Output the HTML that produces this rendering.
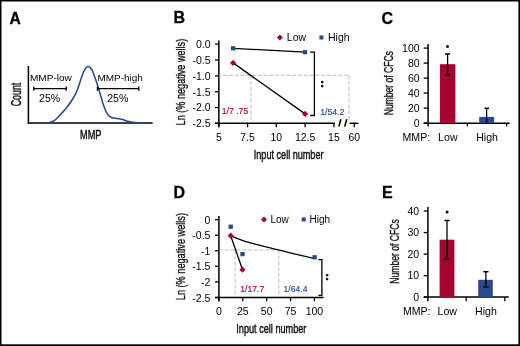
<!DOCTYPE html>
<html><head><meta charset="utf-8"><style>
html,body{margin:0;padding:0;background:#fff;}
svg{display:block;will-change:transform;}
text{font-family:"Liberation Sans", sans-serif;}
</style></head><body>
<svg width="520" height="346" viewBox="0 0 520 346">
<rect width="520" height="346" fill="#fff"/>
<rect x="0" y="0" width="1.5" height="346" fill="#000"/>
<rect x="0" y="0" width="520" height="1.5" fill="#000"/>
<rect x="518.4" y="0" width="1.6" height="346" fill="#000"/>
<rect x="0" y="344.3" width="520" height="1.7" fill="#000"/>
<text x="9.4" y="23.5" font-size="15.6" text-anchor="start" fill="#000" font-weight="bold" stroke="#000" stroke-width="0.3">A</text>
<line x1="28.4" y1="66" x2="28.4" y2="123.85" stroke="#000" stroke-width="1.5" />
<line x1="27.65" y1="123.1" x2="152.7" y2="123.1" stroke="#000" stroke-width="1.5" />
<path d="M48.50,123.00 C49.47,122.60 52.55,121.73 54.30,120.60 C56.05,119.47 56.93,118.37 59.00,116.20 C61.07,114.03 64.32,110.63 66.70,107.60 C69.08,104.57 71.57,100.85 73.30,98.00 C75.03,95.15 75.82,93.67 77.10,90.50 C78.38,87.33 79.88,82.18 81.00,79.00 C82.12,75.82 82.67,73.47 83.80,71.40 C84.93,69.33 86.48,66.92 87.80,66.60 C89.12,66.28 90.58,67.90 91.70,69.50 C92.82,71.10 93.55,73.65 94.50,76.20 C95.45,78.75 96.43,81.77 97.40,84.80 C98.37,87.83 99.35,91.22 100.30,94.40 C101.25,97.58 101.98,100.73 103.10,103.90 C104.22,107.07 105.72,111.17 107.00,113.40 C108.28,115.63 109.38,116.50 110.80,117.30 C112.22,118.10 113.60,117.83 115.50,118.20 C117.40,118.57 119.97,118.95 122.20,119.50 C124.43,120.05 126.52,120.98 128.90,121.50 C131.28,122.02 134.65,122.35 136.50,122.60 C138.35,122.85 139.42,122.93 140.00,123.00" fill="none" stroke="#2b4a8a" stroke-width="1.55"/>
<text x="30.0" y="80.5" font-size="9.6" text-anchor="start" fill="#000" font-weight="normal"  textLength="41.8" lengthAdjust="spacingAndGlyphs">MMP-low</text>
<line x1="33.8" y1="88.7" x2="66.2" y2="88.7" stroke="#000" stroke-width="1.3" />
<line x1="33.8" y1="86.6" x2="33.8" y2="90.8" stroke="#000" stroke-width="1.3" />
<line x1="66.2" y1="86.6" x2="66.2" y2="90.8" stroke="#000" stroke-width="1.3" />
<text x="39.1" y="101.5" font-size="10" text-anchor="start" fill="#000" font-weight="normal"  textLength="21.2" lengthAdjust="spacingAndGlyphs">25%</text>
<text x="97.5" y="80.5" font-size="9.6" text-anchor="start" fill="#000" font-weight="normal"  textLength="45.4" lengthAdjust="spacingAndGlyphs">MMP-high</text>
<line x1="97.4" y1="88.7" x2="138.8" y2="88.7" stroke="#000" stroke-width="1.3" />
<line x1="97.4" y1="86.6" x2="97.4" y2="90.8" stroke="#000" stroke-width="1.3" />
<line x1="138.8" y1="86.6" x2="138.8" y2="90.8" stroke="#000" stroke-width="1.3" />
<text x="107.2" y="101.5" font-size="10" text-anchor="start" fill="#000" font-weight="normal"  textLength="21.2" lengthAdjust="spacingAndGlyphs">25%</text>
<text transform="translate(20.6,106.3) rotate(-90)" font-size="14" textLength="23.6" lengthAdjust="spacingAndGlyphs" font-weight="normal" fill="#111" stroke="#111" stroke-width="0.5">Count</text>
<text x="80" y="138.6" font-size="13.7" textLength="21.4" lengthAdjust="spacingAndGlyphs" font-weight="normal" fill="#111" stroke="#111" stroke-width="0.5">MMP</text>
<text x="173.6" y="23.3" font-size="16" text-anchor="start" fill="#000" font-weight="bold" stroke="#000" stroke-width="0.3">B</text>
<line x1="218.85" y1="40.5" x2="218.85" y2="127.2" stroke="#000" stroke-width="1.5" />
<line x1="214.9" y1="44.1" x2="218.85" y2="44.1" stroke="#000" stroke-width="1.3" />
<text x="210.5" y="47.9" font-size="10.5" text-anchor="end" fill="#000" font-weight="normal" >0.0</text>
<line x1="214.9" y1="59.97" x2="218.85" y2="59.97" stroke="#000" stroke-width="1.3" />
<text x="210.5" y="63.769999999999996" font-size="10.5" text-anchor="end" fill="#000" font-weight="normal" >-0.5</text>
<line x1="214.9" y1="75.84" x2="218.85" y2="75.84" stroke="#000" stroke-width="1.3" />
<text x="210.5" y="79.64" font-size="10.5" text-anchor="end" fill="#000" font-weight="normal" >-1.0</text>
<line x1="214.9" y1="91.71000000000001" x2="218.85" y2="91.71000000000001" stroke="#000" stroke-width="1.3" />
<text x="210.5" y="95.51" font-size="10.5" text-anchor="end" fill="#000" font-weight="normal" >-1.5</text>
<line x1="214.9" y1="107.58" x2="218.85" y2="107.58" stroke="#000" stroke-width="1.3" />
<text x="210.5" y="111.38" font-size="10.5" text-anchor="end" fill="#000" font-weight="normal" >-2.0</text>
<line x1="214.9" y1="123.44999999999999" x2="218.85" y2="123.44999999999999" stroke="#000" stroke-width="1.3" />
<text x="210.5" y="127.24999999999999" font-size="10.5" text-anchor="end" fill="#000" font-weight="normal" >-2.5</text>
<line x1="214.9" y1="123.3" x2="335" y2="123.3" stroke="#000" stroke-width="1.5" />
<line x1="349.5" y1="123.3" x2="358.5" y2="123.3" stroke="#000" stroke-width="1.5" />
<line x1="218.8" y1="123.45" x2="218.8" y2="127.2" stroke="#000" stroke-width="1.3" />
<text x="218.8" y="140.8" font-size="10.5" text-anchor="middle" fill="#000" font-weight="normal" >5</text>
<line x1="247.6" y1="123.45" x2="247.6" y2="127.2" stroke="#000" stroke-width="1.3" />
<text x="247.6" y="140.8" font-size="10.5" text-anchor="middle" fill="#000" font-weight="normal" >7.5</text>
<line x1="276.3" y1="123.45" x2="276.3" y2="127.2" stroke="#000" stroke-width="1.3" />
<text x="276.3" y="140.8" font-size="10.5" text-anchor="middle" fill="#000" font-weight="normal" >10</text>
<line x1="305.1" y1="123.45" x2="305.1" y2="127.2" stroke="#000" stroke-width="1.3" />
<text x="305.1" y="140.8" font-size="10.5" text-anchor="middle" fill="#000" font-weight="normal" >12.5</text>
<line x1="333.9" y1="123.45" x2="333.9" y2="127.2" stroke="#000" stroke-width="1.3" />
<text x="333.9" y="140.8" font-size="10.5" text-anchor="middle" fill="#000" font-weight="normal" >15</text>
<line x1="354.3" y1="123.45" x2="354.3" y2="127.2" stroke="#000" stroke-width="1.3" />
<text x="354.3" y="140.8" font-size="10.5" text-anchor="middle" fill="#000" font-weight="normal" >60</text>
<line x1="338.8" y1="126.6" x2="340.9" y2="119.3" stroke="#000" stroke-width="1.6" />
<line x1="344.7" y1="126.6" x2="346.8" y2="119.3" stroke="#000" stroke-width="1.6" />
<text x="253.8" y="158.8" font-size="12.8" textLength="69.7" lengthAdjust="spacingAndGlyphs" font-weight="normal" fill="#111" stroke="#111" stroke-width="0.45">Input cell number</text>
<text transform="translate(185.2,125.4) rotate(-90)" font-size="13.6" textLength="86.6" lengthAdjust="spacingAndGlyphs" font-weight="normal" fill="#111" stroke="#111" stroke-width="0.35">Ln (% negative wells)</text>
<line x1="219.6" y1="75.3" x2="349.2" y2="75.3" stroke="#bcbcbc" stroke-width="1" stroke-dasharray="4,1.77" stroke-dashoffset="2.27"/>
<line x1="250.9" y1="75.3" x2="250.9" y2="122.7" stroke="#bcbcbc" stroke-width="1" stroke-dasharray="4,1.8"/>
<line x1="349" y1="75.3" x2="349" y2="122.7" stroke="#bcbcbc" stroke-width="1" stroke-dasharray="4,1.8"/>
<line x1="233.1" y1="48.3" x2="305" y2="52.2" stroke="#000" stroke-width="1.3" />
<line x1="233.1" y1="62.9" x2="305.1" y2="113.9" stroke="#000" stroke-width="1.3" />
<rect x="230.95" y="46.15" width="4.3" height="4.3" fill="#2b4a8a"/>
<rect x="302.85" y="50.05" width="4.3" height="4.3" fill="#2b4a8a"/>
<path d="M233.1,59.8 L236.2,62.9 L233.1,66.0 L230.0,62.9 Z" fill="#a6052f"/>
<path d="M305.1,110.80000000000001 L308.20000000000005,113.9 L305.1,117.0 L302.0,113.9 Z" fill="#a6052f"/>
<path d="M310.2,52.2 H314.4 V115.5 H310.2" fill="none" stroke="#000" stroke-width="1.3"/>
<circle cx="322.2" cy="82.1" r="1.3" fill="#111"/>
<circle cx="322.2" cy="86.1" r="1.3" fill="#111"/>
<text x="221.7" y="114.2" font-size="8.7" text-anchor="start" fill="#a6052f" font-weight="normal" stroke="#a6052f" stroke-width="0.15">1/7 .75</text>
<text x="320.2" y="114.7" font-size="8.7" text-anchor="start" fill="#2b4a8a" font-weight="normal" stroke="#2b4a8a" stroke-width="0.15">1/54.2</text>
<path d="M279.9,34.5 L282.9,37.5 L279.9,40.5 L276.9,37.5 Z" fill="#a6052f"/>
<text x="286.8" y="40.6" font-size="10.5" text-anchor="start" fill="#000" font-weight="normal" >Low</text>
<rect x="319.40" y="35.50" width="4.0" height="4.0" fill="#2b4a8a"/>
<text x="328" y="40.6" font-size="10.5" text-anchor="start" fill="#000" font-weight="normal" >High</text>
<text x="381.5" y="23.6" font-size="16" text-anchor="start" fill="#000" font-weight="bold" stroke="#000" stroke-width="0.3">C</text>
<line x1="428.1" y1="44" x2="428.1" y2="126.4" stroke="#000" stroke-width="1.5" />
<line x1="423.7" y1="48.1" x2="428.1" y2="48.1" stroke="#000" stroke-width="1.3" />
<text x="419.6" y="51.9" font-size="10.5" text-anchor="end" fill="#000" font-weight="normal" >100</text>
<line x1="423.7" y1="63.1" x2="428.1" y2="63.1" stroke="#000" stroke-width="1.3" />
<text x="419.6" y="66.9" font-size="10.5" text-anchor="end" fill="#000" font-weight="normal" >80</text>
<line x1="423.7" y1="78.1" x2="428.1" y2="78.1" stroke="#000" stroke-width="1.3" />
<text x="419.6" y="81.89999999999999" font-size="10.5" text-anchor="end" fill="#000" font-weight="normal" >60</text>
<line x1="423.7" y1="93.1" x2="428.1" y2="93.1" stroke="#000" stroke-width="1.3" />
<text x="419.6" y="96.89999999999999" font-size="10.5" text-anchor="end" fill="#000" font-weight="normal" >40</text>
<line x1="423.7" y1="108.1" x2="428.1" y2="108.1" stroke="#000" stroke-width="1.3" />
<text x="419.6" y="111.89999999999999" font-size="10.5" text-anchor="end" fill="#000" font-weight="normal" >20</text>
<line x1="423.7" y1="123.1" x2="428.1" y2="123.1" stroke="#000" stroke-width="1.3" />
<text x="419.6" y="126.89999999999999" font-size="10.5" text-anchor="end" fill="#000" font-weight="normal" >0</text>
<line x1="423.7" y1="123.2" x2="509.6" y2="123.2" stroke="#000" stroke-width="1.5" />
<line x1="467.4" y1="123.2" x2="467.4" y2="126.4" stroke="#000" stroke-width="1.3" />
<line x1="506.6" y1="123.2" x2="506.6" y2="126.4" stroke="#000" stroke-width="1.3" />
<rect x="439.9" y="64.2" width="15.5" height="59" fill="#a6052f"/>
<rect x="479.2" y="116.9" width="15" height="6.3" fill="#2b4a8a"/>
<line x1="447.6" y1="53.9" x2="447.6" y2="74.9" stroke="#000" stroke-width="1.3" />
<line x1="445.1" y1="53.9" x2="450.1" y2="53.9" stroke="#000" stroke-width="1.5" />
<line x1="445.1" y1="74.9" x2="450.1" y2="74.9" stroke="#000" stroke-width="1.5" />
<line x1="486.6" y1="108.3" x2="486.6" y2="123" stroke="#000" stroke-width="1.3" />
<line x1="484.4" y1="108.3" x2="489" y2="108.3" stroke="#000" stroke-width="1.5" />
<circle cx="447.5" cy="46.5" r="1.5" fill="#111"/>
<text transform="translate(392.9,115.3) rotate(-90)" font-size="13" textLength="64.2" lengthAdjust="spacingAndGlyphs" font-weight="normal" fill="#111" stroke="#111" stroke-width="0.35">Number of CFCs</text>
<text x="402.5" y="140.6" font-size="10.6" text-anchor="start" fill="#000" font-weight="normal" >MMP:</text>
<text x="438.1" y="140.6" font-size="10.6" text-anchor="start" fill="#000" font-weight="normal" >Low</text>
<text x="476.2" y="140.6" font-size="10.6" text-anchor="start" fill="#000" font-weight="normal" >High</text>
<text x="173.5" y="197.5" font-size="16" text-anchor="start" fill="#000" font-weight="bold" stroke="#000" stroke-width="0.3">D</text>
<line x1="218.9" y1="216" x2="218.9" y2="301.3" stroke="#000" stroke-width="1.5" />
<line x1="215" y1="219.6" x2="218.9" y2="219.6" stroke="#000" stroke-width="1.3" />
<text x="210.4" y="223.7" font-size="10.5" text-anchor="end" fill="#000" font-weight="normal" >0</text>
<line x1="215" y1="235.18" x2="218.9" y2="235.18" stroke="#000" stroke-width="1.3" />
<text x="210.4" y="239.28" font-size="10.5" text-anchor="end" fill="#000" font-weight="normal" >-0.5</text>
<line x1="215" y1="250.76" x2="218.9" y2="250.76" stroke="#000" stroke-width="1.3" />
<text x="210.4" y="254.85999999999999" font-size="10.5" text-anchor="end" fill="#000" font-weight="normal" >-1</text>
<line x1="215" y1="266.34" x2="218.9" y2="266.34" stroke="#000" stroke-width="1.3" />
<text x="210.4" y="270.44" font-size="10.5" text-anchor="end" fill="#000" font-weight="normal" >-1.5</text>
<line x1="215" y1="281.92" x2="218.9" y2="281.92" stroke="#000" stroke-width="1.3" />
<text x="210.4" y="286.02000000000004" font-size="10.5" text-anchor="end" fill="#000" font-weight="normal" >-2</text>
<line x1="215" y1="297.5" x2="218.9" y2="297.5" stroke="#000" stroke-width="1.3" />
<text x="210.4" y="301.6" font-size="10.5" text-anchor="end" fill="#000" font-weight="normal" >-2.5</text>
<line x1="215" y1="297.5" x2="323.6" y2="297.5" stroke="#000" stroke-width="1.5" />
<line x1="218.9" y1="297.5" x2="218.9" y2="301.3" stroke="#000" stroke-width="1.3" />
<text x="218.9" y="314.9" font-size="10.5" text-anchor="middle" fill="#000" font-weight="normal" >0</text>
<line x1="242.78" y1="297.5" x2="242.78" y2="301.3" stroke="#000" stroke-width="1.3" />
<text x="242.78" y="314.9" font-size="10.5" text-anchor="middle" fill="#000" font-weight="normal" >25</text>
<line x1="266.66" y1="297.5" x2="266.66" y2="301.3" stroke="#000" stroke-width="1.3" />
<text x="266.66" y="314.9" font-size="10.5" text-anchor="middle" fill="#000" font-weight="normal" >50</text>
<line x1="290.54" y1="297.5" x2="290.54" y2="301.3" stroke="#000" stroke-width="1.3" />
<text x="290.54" y="314.9" font-size="10.5" text-anchor="middle" fill="#000" font-weight="normal" >75</text>
<line x1="314.42" y1="297.5" x2="314.42" y2="301.3" stroke="#000" stroke-width="1.3" />
<text x="314.42" y="314.9" font-size="10.5" text-anchor="middle" fill="#000" font-weight="normal" >100</text>
<text x="236.3" y="333.1" font-size="12.8" textLength="70.1" lengthAdjust="spacingAndGlyphs" font-weight="normal" fill="#111" stroke="#111" stroke-width="0.45">Input cell number</text>
<text transform="translate(185.2,300.2) rotate(-90)" font-size="13.6" textLength="87.2" lengthAdjust="spacingAndGlyphs" font-weight="normal" fill="#111" stroke="#111" stroke-width="0.35">Ln (% negative wells)</text>
<line x1="219.65" y1="249.9" x2="278.8" y2="249.9" stroke="#bcbcbc" stroke-width="1" stroke-dasharray="4,1.8" stroke-dashoffset="0.65"/>
<line x1="235.1" y1="249.8" x2="235.1" y2="296.8" stroke="#bcbcbc" stroke-width="1" stroke-dasharray="4,1.8"/>
<line x1="278.8" y1="249.8" x2="278.8" y2="296.8" stroke="#bcbcbc" stroke-width="1" stroke-dasharray="4,1.8"/>
<line x1="230.7" y1="235.7" x2="242.5" y2="269.7" stroke="#000" stroke-width="1.3" />
<path d="M230.70,235.80 C233.08,236.72 240.12,239.72 245.00,241.30 C249.88,242.88 254.83,243.97 260.00,245.30 C265.17,246.63 271.00,248.05 276.00,249.30 C281.00,250.55 283.70,251.30 290.00,252.80 C296.30,254.30 309.83,257.38 313.80,258.30" fill="none" stroke="#000" stroke-width="1.3"/>
<rect x="228.55" y="224.55" width="4.3" height="4.3" fill="#2b4a8a"/>
<rect x="240.35" y="251.95" width="4.3" height="4.3" fill="#2b4a8a"/>
<rect x="312.45" y="255.15" width="4.3" height="4.3" fill="#2b4a8a"/>
<path d="M230.7,232.6 L233.79999999999998,235.7 L230.7,238.79999999999998 L227.6,235.7 Z" fill="#a6052f"/>
<path d="M242.5,266.59999999999997 L245.6,269.7 L242.5,272.8 L239.4,269.7 Z" fill="#a6052f"/>
<path d="M318.4,259.7 H321.9 V295.3 H318.4" fill="none" stroke="#000" stroke-width="1.3"/>
<circle cx="327.1" cy="275.3" r="1.3" fill="#111"/>
<circle cx="327.1" cy="279.1" r="1.3" fill="#111"/>
<text x="240.3" y="291.5" font-size="8.6" text-anchor="start" fill="#a6052f" font-weight="normal" stroke="#a6052f" stroke-width="0.15">1/17.7</text>
<text x="283.6" y="291.5" font-size="8.6" text-anchor="start" fill="#2b4a8a" font-weight="normal" stroke="#2b4a8a" stroke-width="0.15">1/64.4</text>
<path d="M264,216.4 L267.0,219.4 L264,222.4 L261.0,219.4 Z" fill="#a6052f"/>
<text x="270.4" y="222.7" font-size="10" text-anchor="start" fill="#000" font-weight="normal" >Low</text>
<rect x="301.70" y="217.40" width="4.0" height="4.0" fill="#2b4a8a"/>
<text x="309.6" y="222.7" font-size="10" text-anchor="start" fill="#000" font-weight="normal" >High</text>
<text x="381.9" y="197.5" font-size="16" text-anchor="start" fill="#000" font-weight="bold" stroke="#000" stroke-width="0.3">E</text>
<line x1="427.9" y1="206.9" x2="427.9" y2="301.3" stroke="#000" stroke-width="1.5" />
<line x1="423.7" y1="211.0" x2="427.9" y2="211.0" stroke="#000" stroke-width="1.3" />
<text x="419.2" y="214.8" font-size="10.5" text-anchor="end" fill="#000" font-weight="normal" >40</text>
<line x1="423.7" y1="232.55" x2="427.9" y2="232.55" stroke="#000" stroke-width="1.3" />
<text x="419.2" y="236.35000000000002" font-size="10.5" text-anchor="end" fill="#000" font-weight="normal" >30</text>
<line x1="423.7" y1="254.1" x2="427.9" y2="254.1" stroke="#000" stroke-width="1.3" />
<text x="419.2" y="257.9" font-size="10.5" text-anchor="end" fill="#000" font-weight="normal" >20</text>
<line x1="423.7" y1="275.65" x2="427.9" y2="275.65" stroke="#000" stroke-width="1.3" />
<text x="419.2" y="279.45" font-size="10.5" text-anchor="end" fill="#000" font-weight="normal" >10</text>
<line x1="423.7" y1="297.2" x2="427.9" y2="297.2" stroke="#000" stroke-width="1.3" />
<text x="419.2" y="301.0" font-size="10.5" text-anchor="end" fill="#000" font-weight="normal" >0</text>
<line x1="423.7" y1="297.1" x2="508.8" y2="297.1" stroke="#000" stroke-width="1.5" />
<line x1="466.2" y1="297.1" x2="466.2" y2="301.3" stroke="#000" stroke-width="1.3" />
<line x1="504.8" y1="297.1" x2="504.8" y2="301.3" stroke="#000" stroke-width="1.3" />
<rect x="439.6" y="239.7" width="14.8" height="57.4" fill="#a6052f"/>
<rect x="478.2" y="279.8" width="14.6" height="17.3" fill="#2b4a8a"/>
<line x1="447" y1="220.5" x2="447" y2="259.2" stroke="#000" stroke-width="1.3" />
<line x1="444.4" y1="220.5" x2="449.6" y2="220.5" stroke="#000" stroke-width="1.5" />
<line x1="444.4" y1="259.2" x2="449.6" y2="259.2" stroke="#000" stroke-width="1.5" />
<line x1="485.9" y1="271.7" x2="485.9" y2="286.9" stroke="#000" stroke-width="1.3" />
<line x1="483.3" y1="271.7" x2="488.5" y2="271.7" stroke="#000" stroke-width="1.5" />
<line x1="483.3" y1="286.9" x2="488.5" y2="286.9" stroke="#000" stroke-width="1.5" />
<circle cx="447.1" cy="211.9" r="1.5" fill="#111"/>
<text transform="translate(398.7,283.8) rotate(-90)" font-size="13" textLength="64.7" lengthAdjust="spacingAndGlyphs" font-weight="normal" fill="#111" stroke="#111" stroke-width="0.35">Number of CFCs</text>
<text x="402.9" y="315" font-size="10.6" text-anchor="start" fill="#000" font-weight="normal" >MMP:</text>
<text x="437.5" y="315" font-size="10.6" text-anchor="start" fill="#000" font-weight="normal" >Low</text>
<text x="475" y="315" font-size="10.6" text-anchor="start" fill="#000" font-weight="normal" >High</text>
</svg>
</body></html>
